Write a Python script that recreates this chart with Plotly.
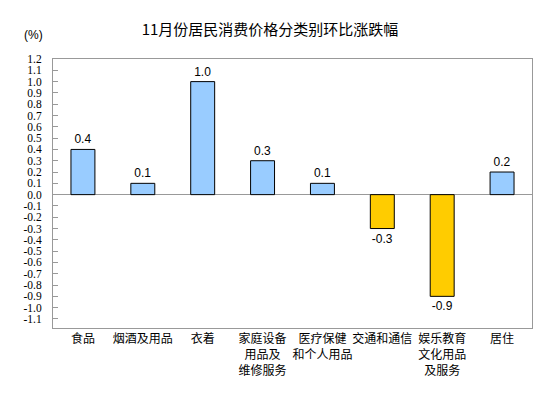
import plotly.graph_objects as go

categories = ["食品", "烟酒及用品", "衣着", "家庭设备<br>用品及<br>维修服务",
              "医疗保健<br>和个人用品", "交通和通信", "娱乐教育<br>文化用品<br>及服务", "居住"]
values = [0.4, 0.1, 1.0, 0.3, 0.1, -0.3, -0.9, 0.2]
labels = ["0.4", "0.1", "1.0", "0.3", "0.1", "-0.3", "-0.9", "0.2"]
y_ticks = [round(-1.1 + 0.1 * i, 1) for i in range(24)]
y_tick_labels = [f"{v:.1f}" for v in y_ticks]
title = "11月份居民消费价格分类别环比涨跌幅"

colors = ["#99CCFF" if v >= 0 else "#FFCC00" for v in values]

L, R, T, B = 52.5, 21.5, 58.5, 70
W, H = 554, 398

fig = go.Figure(go.Bar(
    x=categories, y=values, text=labels, textposition="outside",
    textfont=dict(family="Liberation Sans, Arial", size=12, color="#000000"),
    marker=dict(color=colors, line=dict(color="#000000", width=1)),
    cliponaxis=False,
))

fig.update_layout(
    width=W, height=H,
    margin=dict(l=L, r=R, t=T, b=B, autoexpand=False),
    paper_bgcolor="white", plot_bgcolor="white",
    bargap=0.6,
    showlegend=False,
    font=dict(family="Noto Sans CJK SC", size=12, color="#000000"),
    title=dict(text=title, x=270 / W, xanchor="center", xref="container",
               y=1 - 30 / H, yanchor="middle", yref="container",
               font=dict(family="Noto Sans CJK SC", size=15, color="#000000")),
    annotations=[dict(text="(%)", xref="paper", yref="paper",
                      x=(33 - L) / (W - L - R), y=(H - 34 - B) / (H - T - B),
                      xanchor="center", yanchor="middle", showarrow=False,
                      font=dict(family="Liberation Sans, Arial", size=12, color="#000000"))],
)

fig.update_xaxes(
    automargin=False,
    showline=True, linecolor="#999999", linewidth=1, mirror=True,
    ticks="", showgrid=False,
    tickfont=dict(family="Noto Sans CJK SC", size=12, color="#000000"),
    tickangle=0,
)
fig.update_yaxes(
    automargin=False,
    range=[-1.18, 1.2001],
    tickvals=y_ticks, ticktext=y_tick_labels,
    showline=True, linecolor="#999999", linewidth=1, mirror=True,
    ticks="inside", ticklen=5, tickcolor="#999999",
    showgrid=False,
    zeroline=True, zerolinecolor="#999999", zerolinewidth=1,
    tickfont=dict(family="Liberation Serif, Times New Roman", size=11.5, color="#000000"),
    ticklabelstandoff=8,
)

fig.write_html("out.html",
               config={"displayModeBar": False},
               post_script="document.body.style.margin='0';document.body.style.padding='0';")
